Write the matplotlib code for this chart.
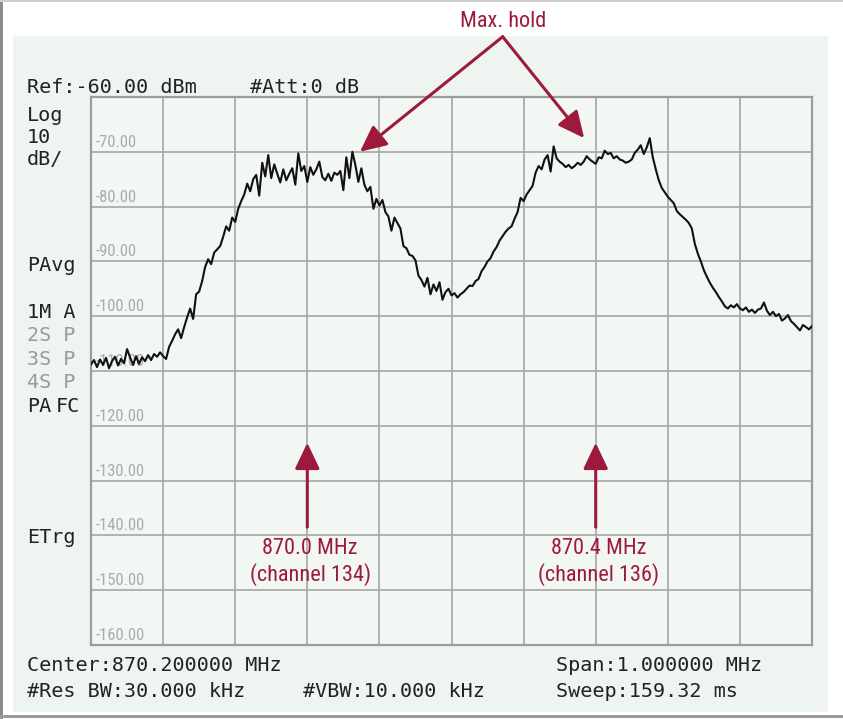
import numpy as np
import matplotlib
matplotlib.use("Agg")
import matplotlib.pyplot as plt
from matplotlib.patches import Rectangle
from matplotlib import font_manager

# sweep: 869.7 .. 870.7 MHz, trace every ~3 px
f_start, f_stop = 869.7, 870.7
level_dbm = [
    -108.8, -108.0, -109.3, -107.9, -108.9, -107.6, -109.5, -108.2, -107.4, -109.0,
    -107.8, -108.6, -106.0, -107.5, -108.9, -107.3, -108.7, -107.5, -108.2, -107.1,
    -108.0, -106.9, -107.4, -106.6, -107.3, -107.8, -105.6, -104.5, -103.3, -102.4,
    -104.0, -102.0, -100.2, -98.6, -100.5, -96.0, -95.5, -93.6, -91.0, -89.6,
    -90.5, -88.4, -87.8, -87.2, -85.5, -83.6, -84.4, -82.0, -82.8, -80.4,
    -79.0, -77.8, -75.8, -77.2, -75.0, -74.2, -78.0, -72.0, -74.5, -70.6,
    -74.8, -72.3, -74.0, -75.6, -73.2, -75.2, -74.0, -73.0, -76.0, -70.3,
    -73.5, -72.6, -75.5, -72.8, -74.2, -73.2, -71.8, -74.6, -75.2, -74.0,
    -75.3, -73.8, -74.2, -73.5, -77.0, -71.0, -74.8, -70.0, -72.4, -75.5,
    -73.0, -76.0, -77.2, -76.4, -80.4, -78.6, -79.8, -78.8, -81.0, -81.8,
    -84.4, -82.0, -83.0, -84.0, -87.2, -87.6, -88.8, -89.0, -89.8, -92.6,
    -93.4, -94.6, -93.0, -96.0, -94.2, -95.4, -93.8, -97.0, -95.6, -95.0,
    -96.2, -95.8, -96.6, -96.0, -95.6, -95.0, -94.4, -94.5, -93.6, -93.2,
    -91.8, -91.0, -90.0, -89.4, -88.2, -87.4, -86.2, -85.4, -84.6, -84.0,
    -83.6, -82.2, -81.0, -78.4, -79.0, -77.8, -77.0, -76.2, -73.8, -72.6,
    -73.2, -71.4, -70.6, -73.6, -69.0, -71.2, -71.8, -72.2, -72.8, -72.4,
    -73.0, -72.6, -72.0, -72.4, -71.8, -70.8, -71.4, -71.8, -72.2, -71.0,
    -71.2, -69.8, -70.4, -70.2, -71.2, -70.8, -71.4, -71.6, -72.0, -71.8,
    -71.4, -70.2, -69.6, -68.8, -70.4, -69.2, -67.5, -71.0, -73.2, -75.2,
    -76.6, -77.4, -78.2, -78.8, -79.4, -80.8, -81.4, -81.9, -82.4, -83.0,
    -84.0, -86.8, -88.6, -90.0, -91.6, -92.8, -93.9, -94.8, -95.6, -96.5,
    -97.3, -98.2, -98.6, -98.0, -98.4, -97.8, -98.6, -98.9, -98.4, -99.2,
    -98.8, -99.4, -98.8, -98.6, -97.5, -99.0, -99.8, -99.2, -100.0, -99.6,
    -100.8, -100.4, -99.8, -100.9, -101.4, -102.0, -102.6, -101.6, -102.0, -102.4,
    -101.8,
]
freq_mhz = np.linspace(f_start, f_stop, len(level_dbm))

ref_level = -60
grid_freqs = np.arange(0, 11) * 0.1 + f_start
grid_levels = np.arange(-160, -59, 10)
scale_levels = grid_levels[:-1]  # -160 .. -70 printed inside the graticule

markers = [(870.0, "870.0 MHz\n(channel 134)"), (870.4, "870.4 MHz\n(channel 136)")]
maxhold_tips = [(870.073, -70.0), (870.384, -67.5)]

red = "#9e1a3c"
mono = "DejaVu Sans Mono"
W, H = 843, 719


def pick_narrow():
    # look for some condensed sans face, the call-outs use one
    wanted = ["Liberation Sans Narrow", "Roboto Condensed", "Open Sans Condensed",
              "Noto Sans Condensed", "DejaVu Sans Condensed"]
    found = []
    for f in font_manager.fontManager.ttflist:
        if f.style != "normal":
            continue
        if f.weight not in (400, "normal", "regular", "book"):
            continue
        name = f.name
        if "Mono" in name or "Serif" in name:
            continue
        narrow = ("Narrow" in name or "Condensed" in name or
                  f.stretch in ("condensed", "semi-condensed", "extra-condensed", 300, 400))
        if narrow:
            found.append(f)
    for w in wanted:
        for f in found:
            if f.name == w or (w.startswith(f.name) and "ondensed" in str(f.stretch)):
                return f.fname
    if found:
        return found[0].fname
    return None


narrow_path = pick_narrow()
if narrow_path:
    callout_font = font_manager.FontProperties(fname=narrow_path, size=16)
    scale_font = font_manager.FontProperties(fname=narrow_path, size=12)
else:
    callout_font = font_manager.FontProperties(family="Liberation Sans", size=13.5)
    scale_font = font_manager.FontProperties(family=mono, size=9.5)

fig = plt.figure(figsize=(W / 100, H / 100), dpi=100)
fig.patch.set_facecolor("white")


def fx(px):
    return px / W


def fy(py):
    return 1 - py / H


# screen panel and frame
for rect, col in [(((fx(13), fy(712)), fx(815), (712 - 36) / H), "#eef4f0"),
                  (((0, 0), fx(3), 1), "#8c8c8c"),
                  (((0, fy(2)), 1, 2 / H), "#cfcfcf"),
                  (((0, fy(718)), 1, 3 / H), "#9a9a9a")]:
    fig.patches.append(Rectangle(*rect, transform=fig.transFigure, facecolor=col,
                                 edgecolor="none", zorder=-5))

ax = fig.add_axes([fx(91), fy(645), fx(812 - 91), (645 - 97) / H])
ax.set_zorder(2)
ax.set_facecolor("#f2f7f3")
ax.set_xlim(f_start, f_stop)
ax.set_ylim(-160, ref_level)
ax.set_xticks(grid_freqs)
ax.set_yticks(grid_levels)
ax.grid(True, color="#a6a6a6", lw=1.2)
ax.tick_params(length=0, labelbottom=False, labelleft=False)
for s in ax.spines.values():
    s.set_color("#9c9c9c")
    s.set_linewidth(1.6)

# scale labels inside the graticule
for lv in scale_levels:
    ax.annotate(f"{lv:.2f}", xy=(0, lv), xycoords=("axes fraction", "data"),
                xytext=(3, 1.5), textcoords="offset points", ha="left", va="bottom",
                fontproperties=scale_font, color="#ababab", zorder=1)

ax.plot(freq_mhz, level_dbm, color="#111111", lw=1.5, zorder=3)


# instrument annotations around the screen
def screen_text(px, py, s, color="#222222"):
    fig.text(fx(px), fy(py), s, ha="left", va="baseline", family=mono,
             fontsize=14.5, color=color)


screen_text(27, 93, "Ref:-60.00 dBm")
screen_text(250, 93, "#Att:0 dB")
screen_text(27, 121, "Log")
screen_text(27, 143, "10")
screen_text(27, 165, "dB/")
screen_text(27, 271, "PAvg")
screen_text(27, 318, "1M A")
screen_text(27, 341, "2S P", "#9a9a9a")
screen_text(27, 365, "3S P", "#9a9a9a")
screen_text(27, 388, "4S P", "#9a9a9a")
screen_text(27, 412, "PA")
screen_text(56, 412, "FC")
screen_text(27, 543, "ETrg")
screen_text(27, 671, "Center:870.200000 MHz")
screen_text(556, 671, "Span:1.000000 MHz")
screen_text(27, 697, "#Res BW:30.000 kHz")
screen_text(303, 697, "#VBW:10.000 kHz")
screen_text(556, 697, "Sweep:159.32 ms")

# red call-outs
arrow = dict(arrowstyle="-|>,head_length=0.8,head_width=0.38", color=red, lw=2.2,
             shrinkA=0, shrinkB=0, mutation_scale=20)
ax.text(870.271, -46.3, "Max. hold", ha="center", va="center", color=red,
        fontproperties=callout_font, clip_on=False)
for tip in maxhold_tips:
    ax.annotate("", xy=tip, xytext=(870.271, -49.0), arrowprops=arrow,
                annotation_clip=False)

for f, lab in markers:
    ax.annotate("", xy=(f, -123.1), xytext=(f, -138.5), arrowprops=arrow)
    ax.text(f + 0.004, -144.9, lab, ha="center", va="center", color=red,
            fontproperties=callout_font, linespacing=1.25, zorder=4)

fig.savefig("out.png", dpi=100, facecolor=fig.get_facecolor())
